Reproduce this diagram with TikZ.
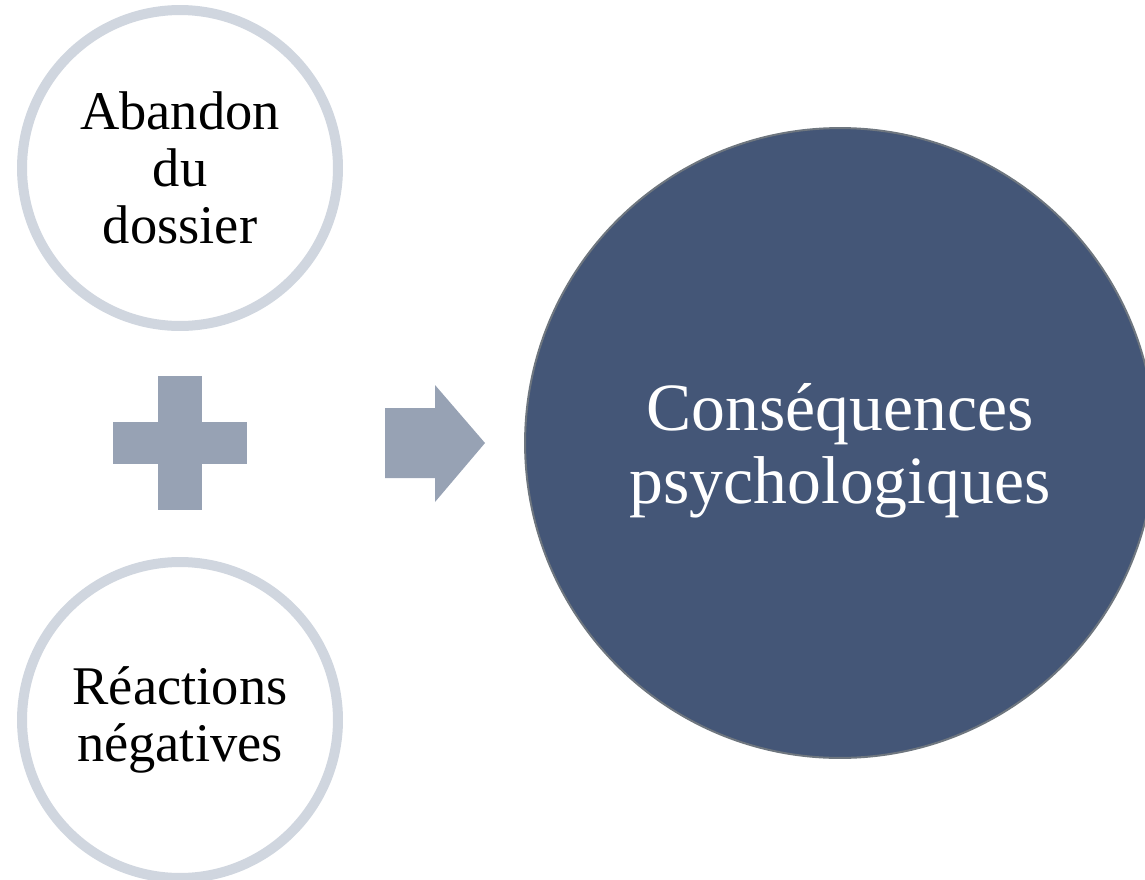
\documentclass[tikz,border=0pt]{standalone}
\usepackage{fontspec}
\setmainfont{Liberation Serif}
\usetikzlibrary{positioning}
\definecolor{ringgray}{HTML}{D0D6DF}
\definecolor{signgray}{HTML}{97A2B4}
\definecolor{deepblue}{HTML}{445677}
\definecolor{rimgray}{HTML}{6E767F}
\tikzset{
  smallring/.style={circle, draw=ringgray, line width=0.2cm, fill=white,
    minimum size=6.32cm, align=center, font=\fontsize{31}{32.5}\selectfont},
  bigdisc/.style={circle, draw=rimgray, line width=0.04cm, fill=deepblue,
    minimum size=12.6cm},
  disctext/.style={align=center, text=white, font=\fontsize{38.5}{41.5}\selectfont}
}

\begin{document}
\begin{tikzpicture}[x=0.02cm, y=-0.02cm]
   \useasboundingbox (0,0) rectangle (1145,879);
   \clip (0,0) rectangle (1145,879);

   % the two causes
   \node[smallring] (abandon) at (180,168) {Abandon\\du\\dossier};
   \node[smallring] (reactions) at (180,720) {Réactions\\négatives};

   % plus sign
   \fill[signgray] (113,422) rectangle (247,464);
   \fill[signgray] (158,376) rectangle (202,510);

   % arrow
   \fill[signgray] (385,408) -- (435,408) -- (435,385) -- (485,443)
      -- (435,502) -- (435,478) -- (385,478) -- cycle;

   % result
   \node[bigdisc] (consequences) at (840,443) {};
   \node[disctext] (consequenceslabel) at ([yshift=-0.15cm]consequences.center)
      {Conséquences\\psychologiques};
\end{tikzpicture}
\end{document}
